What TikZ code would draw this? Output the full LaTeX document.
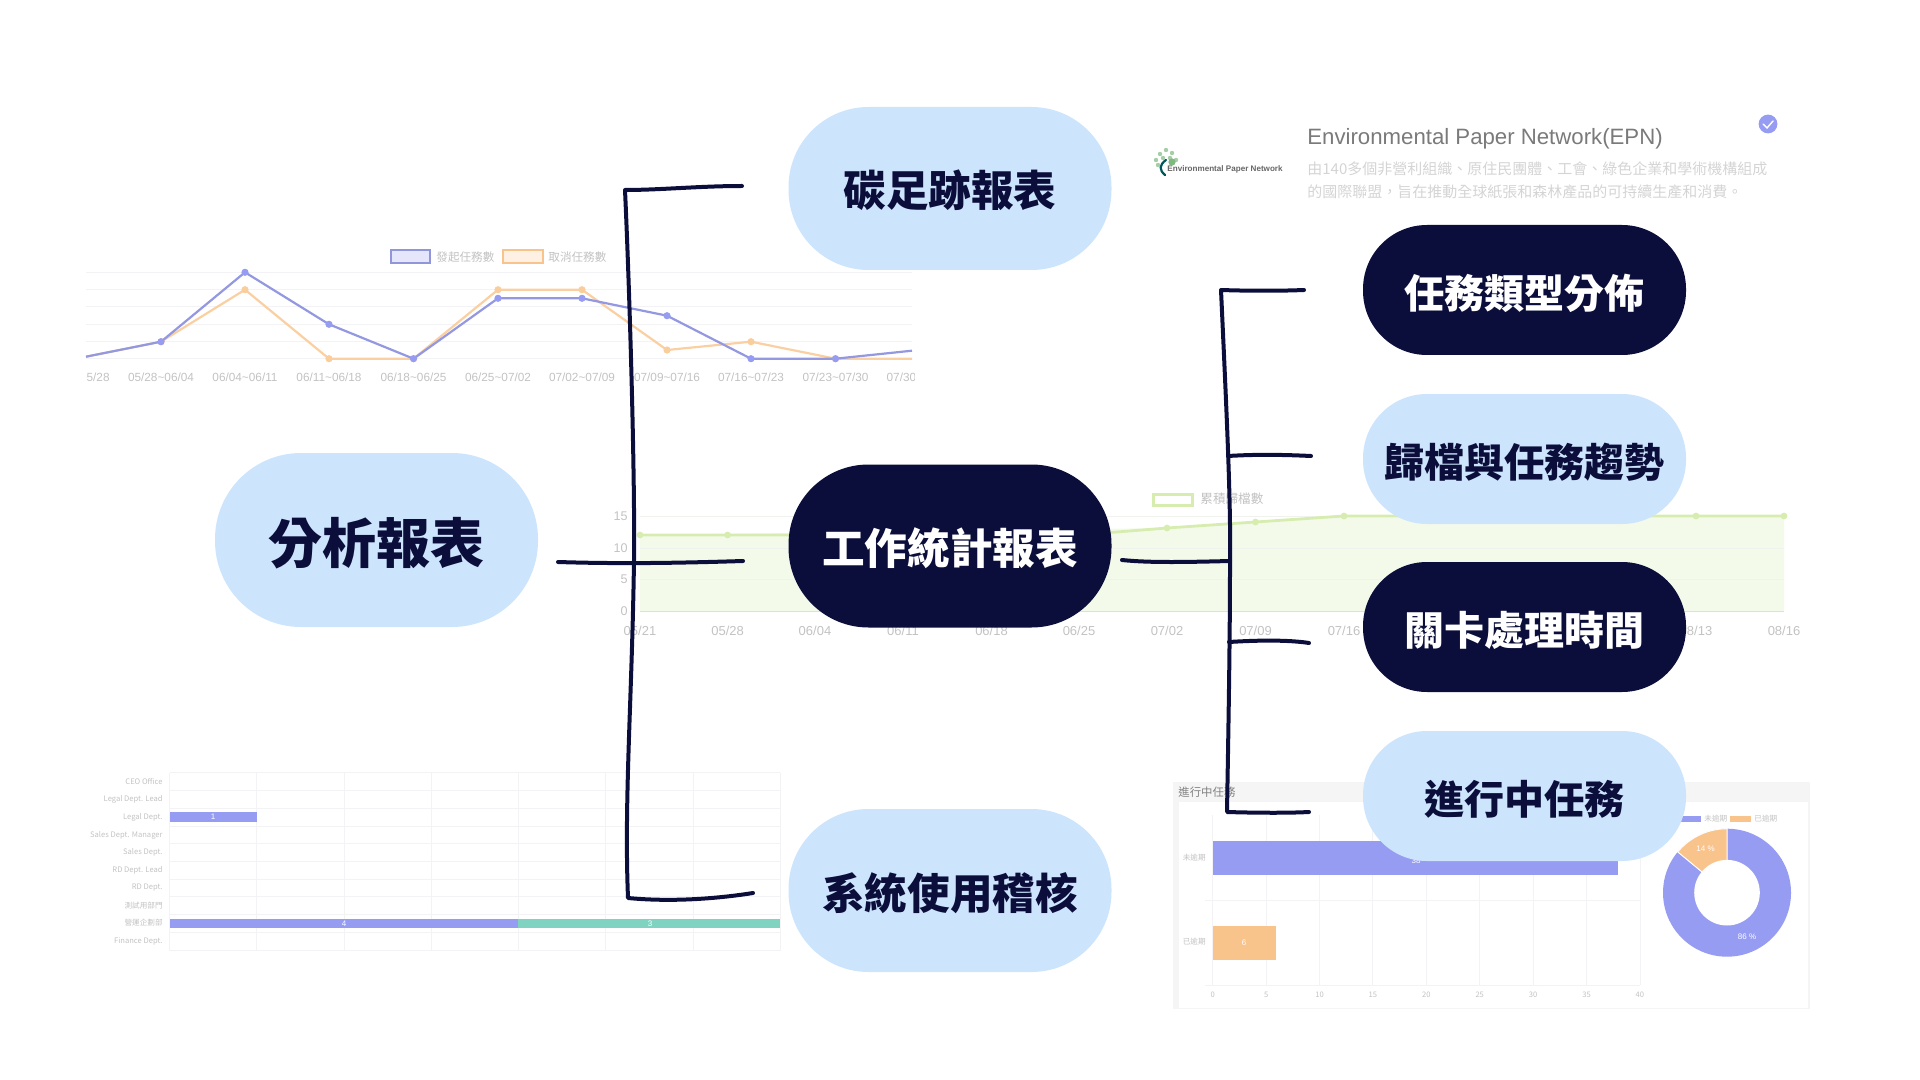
\documentclass[tikz,border=0pt]{standalone}
\usepackage{fontspec}
\setmainfont{Liberation Sans}
\newfontfamily\cjk{Noto Sans CJK TC}
\definecolor{navy}{HTML}{0B0E3A}
\definecolor{sky}{HTML}{CDE5FC}
\definecolor{iris}{HTML}{969CF2}
\definecolor{peach}{HTML}{F9C48C}
\definecolor{mint}{HTML}{7FD3C0}
\definecolor{sprout}{HTML}{D7EDB0}
\definecolor{sproutfill}{HTML}{F3FAEA}
\definecolor{gridgrey}{HTML}{F3F3F5}
\definecolor{labelgrey}{HTML}{C2C2C2}
\tikzset{
	pill/.style={rounded corners=40pt,minimum width=161.5pt,minimum height=66pt,inner sep=0pt,text height=21pt,text depth=2.5pt,font=\cjk\bfseries\fontsize{21.3}{21}\selectfont},
	pilllight/.style={pill,fill=sky,text=navy},
	pilldark/.style={pill,fill=navy,text=white},
	pillsmall/.style={minimum height=65pt,rounded corners=32pt,font=\cjk\bfseries\fontsize{20}{20}\selectfont},
	pen/.style={draw=navy,line width=2pt,line cap=round,line join=round},
	gridline/.style={draw=gridgrey,line width=.5pt},
	axislabel/.style={text=labelgrey,inner sep=0pt,font=\fontsize{5.9}{6}\selectfont},
	tinylabel/.style={text=labelgrey,inner sep=0pt,font=\cjk\fontsize{3.8}{4}\selectfont},
	barlabel/.style={text=white,inner sep=0pt,font=\fontsize{4}{4}\selectfont},
}
\begin{document}
\begin{tikzpicture}[x=0.5pt,y=-0.5pt]
	\useasboundingbox (0,0) rectangle (1920,1080);
	% weekly line chart
	\foreach \v in {272.3,289.7,307,324.3,341.7,358.7}
		\draw[gridline] (86,\v)--(912,\v);
	\draw[draw=peach!80,line width=1.1pt] plot coordinates {(86,356.7)(161,341.7)(245,289.7)(329,358.7)(413.5,358.7)(498,289.7)(582,289.7)(667,350)(751,341.7)(835.5,358.7)(912,358.7)};
	\foreach \a/\b in {161/341.7,245/289.7,329/358.7,413.5/358.7,498/289.7,582/289.7,667/350,751/341.7,835.5/358.7}
		\fill[peach!85] (\a,\b) circle[radius=1.8pt];
	\draw[draw=iris!85!gray,line width=1.1pt] plot coordinates {(86,356.7)(161,341.7)(245,272.3)(329,324.3)(413.5,358.7)(498,298.3)(582,298.3)(667,315.7)(751,358.7)(835.5,358.7)(912,350.7)};
	\foreach \a/\b in {161/341.7,245/272.3,329/324.3,413.5/358.7,498/298.3,582/298.3,667/315.7,751/358.7,835.5/358.7}
		\fill[iris] (\a,\b) circle[radius=1.8pt];
	\begin{scope}
		\clip (86,365) rectangle (914,390);
		\foreach \a/\t [count=\n] in {76.6/{05/21\textasciitilde05/28},161/{05/28\textasciitilde06/04},245/{06/04\textasciitilde06/11},329/{06/11\textasciitilde06/18},413.5/{06/18\textasciitilde06/25},498/{06/25\textasciitilde07/02},582/{07/02\textasciitilde07/09},667/{07/09\textasciitilde07/16},751/{07/16\textasciitilde07/23},835.5/{07/23\textasciitilde07/30},919.6/{07/30\textasciitilde08/06}}
			\node[axislabel] (week\n) at (\a,377) {\t};
	\end{scope}
	\draw[draw=iris!80!gray,fill=iris!25,line width=.8pt] (391,250) rectangle (430,263);
	\node[tinylabel,anchor=west,font=\cjk\fontsize{5.8}{6}\selectfont] (legendstart) at (436,257) {發起任務數};
	\draw[draw=peach,fill=peach!25,line width=.8pt] (503,250) rectangle (543,263);
	\node[tinylabel,anchor=west,font=\cjk\fontsize{5.8}{6}\selectfont] (legendcancel) at (548,257) {取消任務數};
	% partner card
	\node[text=black!52,inner sep=0pt,anchor=west,font=\fontsize{11.1}{12}\selectfont] (epntitle) at (1307,139) {Environmental Paper Network(EPN)};
	\node[text=black!17,inner sep=0pt,anchor=west,font=\cjk\fontsize{7.5}{8}\selectfont] (epnline) at (1307,169) {由140多個非營利組織、原住民團體、工會、綠色企業和學術機構組成};
	\node[text=black!17,inner sep=0pt,anchor=west,font=\cjk\fontsize{7.5}{8}\selectfont] (epnlinetwo) at (1307,192) {的國際聯盟，旨在推動全球紙張和森林產品的可持續生產和消費。};
	\fill[iris] (1768,124) circle[radius=4.7pt];
	\draw[white,line width=.7pt,line cap=round] (1763,124)--(1767,128)--(1773,121);
	\foreach \a/\b in {1160/154,1166/150,1172/153,1156/160,1163/158,1170/158,1176/160,1158/165}
		\fill[green!45!black!35] (\a,\b) circle[radius=1.1pt];
	\fill[green!45!black!50] (1172,162) circle[radius=1.8pt];
	\draw[draw=teal!70!black,line width=1.1pt,line cap=round] (1166,160) .. controls (1159,165) and (1159,170) .. (1165,175);
	\node[text=black!60,inner sep=0pt,anchor=west,font=\bfseries\fontsize{4.05}{5}\selectfont] (epnlogo) at (1167,169) {Environmental Paper Network};
	% archive area chart
	\fill[sproutfill] (640,535)--(1167,528)--(1255.5,522)--(1344,516)--(1784,516)--(1784,611)--(640,611)--cycle;
	\draw[draw=gridgrey!90!sprout,line width=.5pt] (640,516)--(1784,516) (640,548)--(1784,548) (640,579)--(1784,579);
	\draw[draw=sprout,line width=.5pt] (640,611)--(1784,611);
	\draw[draw=sprout,line width=1.4pt] (640,535)--(1079,535)--(1167,528)--(1255.5,522)--(1344,516)--(1784,516);
	\foreach \a/\b in {640/535,727.6/535,1167/528,1255.5/522,1344/516,1696/516,1784/516}
		\fill[sprout] (\a,\b) circle[radius=1.7pt];
	\foreach \b/\t in {516/15,548/10,579/5,611/0}
		\node[axislabel,anchor=east,font=\fontsize{6.3}{6}\selectfont] (count\t) at (628,\b) {\t};
	\foreach \a/\t [count=\n] in {640/{05/21},727.6/{05/28},815/{06/04},903/{06/11},991.5/{06/18},1079/{06/25},1167/{07/02},1255.5/{07/09},1344/{07/16},1696/{08/13},1784/{08/16}}
		\node[axislabel,font=\fontsize{6.5}{6}\selectfont] (day\n) at (\a,631) {\t};
	\draw[draw=sprout,fill=white,line width=1.5pt] (1153,494) rectangle (1192,505);
	\node[tinylabel,anchor=west,font=\cjk\fontsize{6.3}{6}\selectfont] (legendarchive) at (1200,499) {累積歸檔數};
	% audit bar chart
	\foreach \v in {772.7,790.7,808.3,826,843.7,861.3,879.3,896.7,914.3,932,950.7}
		\draw[gridline] (169.7,\v)--(780,\v);
	\foreach \a in {169.7,256.5,344,431,518,605.7,693,780}
		\draw[gridline] (\a,772.7)--(\a,950.7);
	\foreach \b/\t [count=\n] in {781.7/CEO Office,799.5/Legal Dept. Lead,817/Legal Dept.,835/Sales Dept. Manager,852.5/Sales Dept.,870.3/RD Dept. Lead,888/RD Dept.,905.5/測試用部門,923/營運企劃部,941.3/Finance Dept.}
		\node[tinylabel,anchor=east] (dept\n) at (163,\b) {\t};
	\fill[iris] (169.7,812) rectangle (256.5,822);
	\fill[iris] (169.7,918.7) rectangle (518.4,928.3);
	\fill[mint] (518.4,918.7) rectangle (780,928.3);
	\node[barlabel] (barone) at (213,817) {1};
	\node[barlabel] (barfour) at (344,923.5) {4};
	\node[barlabel] (barthree) at (650,923.5) {3};
	% running task card
	\fill[black!4] (1173.4,781.7) rectangle (1810,1009);
	\fill[white] (1178.5,802.3) rectangle (1808,1007.7);
	\node[anchor=west,text=gray,inner sep=0pt,font=\cjk\fontsize{5.7}{6}\selectfont] (runtitle) at (1178,792) {進行中任務};
	\foreach \a in {1212.7,1266.1,1319.5,1372.9,1426.3,1479.7,1533.1,1586.5,1640}
		\draw[gridline] (\a,815)--(\a,985);
	\draw[gridline] (1205,900)--(1640,900) (1205,985)--(1640,985);
	\fill[iris] (1212.7,841) rectangle (1618,875);
	\fill[peach] (1212.7,925.7) rectangle (1276.4,959.7);
	\node[barlabel] (barover) at (1416,861) {38};
	\node[barlabel] (barsix) at (1244,942.7) {6};
	\node[tinylabel,anchor=east] (rowopen) at (1206,858) {未逾期};
	\node[tinylabel,anchor=east] (rowlate) at (1206,942) {已逾期};
	\foreach \t [count=\n from 0] in {0,5,10,15,20,25,30,35,40}
		\node[tinylabel] (tick\t) at (1212.7+53.4*\n,995) {\t};
	\coordinate (donut) at (1727,892.7);
	\fill[iris] (donut) circle[radius=32pt];
	\filldraw[fill=peach,draw=white,line width=.5pt] ([shift={(90:16pt)}]donut)--([shift={(90:32pt)}]donut) arc[start angle=90,end angle=140.4,radius=32pt]--([shift={(140.4:16pt)}]donut)--cycle;
	\fill[white] (donut) circle[radius=16.4pt];
	\node[barlabel] (slicelate) at (1705.5,848.7) {14 \%};
	\node[barlabel] (sliceopen) at (1747,936.7) {86 \%};
	\fill[iris] (1680.7,816.3) rectangle (1701,821.7);
	\node[tinylabel,anchor=west] (legendopen) at (1704,819) {未逾期};
	\fill[peach] (1730,816.3) rectangle (1751,821.7);
	\node[tinylabel,anchor=west] (legendlate) at (1754,819) {已逾期};
	% pills
	\node[pilllight,rounded corners=43pt,minimum height=87pt,text height=26pt,text depth=3pt,font=\cjk\bfseries\fontsize{27}{27}\selectfont] (report) at (376.5,540) {分析報表};
	\node[pilllight,minimum height=81.5pt] (carbon) at (950,188.5) {碳足跡報表};
	\node[pilldark,minimum height=81.5pt] (workstat) at (950,546) {工作統計報表};
	\node[pilllight,minimum height=81.5pt] (audit) at (950,890.5) {系統使用稽核};
	\node[pilldark,pillsmall] (tasktype) at (1524.5,290) {任務類型分佈};
	\node[pilllight,pillsmall] (archive) at (1524.5,459) {歸檔與任務趨勢};
	\node[pilldark,pillsmall] (stagetime) at (1524.5,627) {關卡處理時間};
	\node[pilllight,pillsmall] (running) at (1524.5,796) {進行中任務};
	% hand drawn brackets
	\coordinate (reportout) at (558,562);
	\coordinate (workin) at (743,561);
	\coordinate (carbonin) at (742,186);
	\coordinate (auditin) at (753,893);
	\coordinate (trunktop) at (625,190);
	\coordinate (trunkbot) at (628,898);
	\coordinate (workout) at (1122,560);
	\coordinate (rtrunkmid) at (1230,561);
	\coordinate (typein) at (1304,290);
	\coordinate (archivein) at (1311,456);
	\coordinate (stagein) at (1309,643);
	\coordinate (runningin) at (1309,812);
	\coordinate (rtrunktop) at (1221,290);
	\coordinate (rtrunkbot) at (1227,812);
	\draw[pen] (carbonin) .. controls (700,186) and (660,190) .. (trunktop) .. controls (630,300) and (635,480) .. (634,560) .. controls (632,700) and (624,800) .. (trunkbot) .. controls (670,902) and (715,899) .. (auditin);
	\draw[pen] (reportout) .. controls (620,564) and (680,563) .. (workin);
	\draw[pen] (typein) .. controls (1280,291) and (1250,291) .. (rtrunktop) .. controls (1226,400) and (1231,500) .. (rtrunkmid) .. controls (1230,650) and (1228,750) .. (rtrunkbot) .. controls (1260,813) and (1290,813) .. (runningin);
	\draw[pen] (workout) .. controls (1150,563) and (1190,562) .. (rtrunkmid);
	\draw[pen] (1228,456) .. controls (1260,454) and (1290,455) .. (archivein);
	\draw[pen] (1229,642) .. controls (1260,640) and (1290,640) .. (stagein);
\end{tikzpicture}
\end{document}
